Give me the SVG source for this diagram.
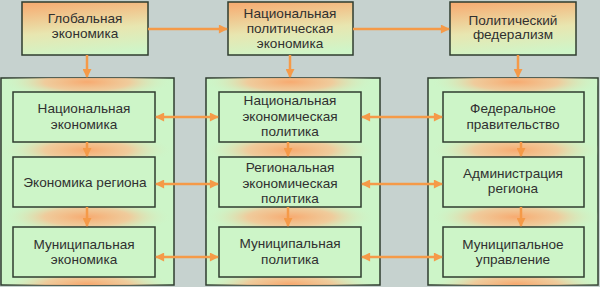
<svg xmlns="http://www.w3.org/2000/svg" width="600" height="287" viewBox="0 0 600 287">
<defs>
<style>
text{font-family:"Liberation Sans",Arial,sans-serif;font-size:13.6px;fill:#303030;text-anchor:middle}
.top{fill:url(#tg);stroke:#2f3d2f;stroke-width:1.5}
.cont{fill:#cdf5c8;stroke:#2f3d2f;stroke-width:1.5}
.box{fill:#cdf5c8;stroke:#2f3d2f;stroke-width:1.5}
.glow{fill:url(#rg)}
.a{stroke:#f59a48;stroke-width:2.5;fill:none;marker-end:url(#ah)}
.b{stroke:#f59a48;stroke-width:2.5;fill:none;marker-end:url(#ah);marker-start:url(#ah)}
</style>
<linearGradient id="tg" x1="0.3" y1="0" x2="0.5" y2="1">
<stop offset="0" stop-color="#f6ae74"/>
<stop offset="0.55" stop-color="#e8e6b0"/>
<stop offset="1" stop-color="#cff5c8"/>
</linearGradient>
<radialGradient id="rg">
<stop offset="0" stop-color="#f7aa70"/>
<stop offset="0.5" stop-color="#f5c494" stop-opacity="0.85"/>
<stop offset="1" stop-color="#cdf5c8" stop-opacity="0"/>
</radialGradient>
<marker id="ah" viewBox="0 0 10 10" refX="9" refY="5" markerWidth="10" markerHeight="9" markerUnits="userSpaceOnUse" orient="auto-start-reverse">
<path d="M0,0 L10,5 L0,10 Z" fill="#f59a48"/>
</marker>
<clipPath id="c1"><rect x="1" y="78" width="173" height="207"/></clipPath>
<clipPath id="c2"><rect x="206" y="78" width="174" height="207"/></clipPath>
<clipPath id="c3"><rect x="428" y="78" width="170" height="207"/></clipPath>
</defs>
<rect width="600" height="287" fill="#c6d2cf"/>

<g id="container-left">
<rect class="cont" x="1" y="78" width="173" height="207"/>
<g clip-path="url(#c1)">
<ellipse class="glow" cx="87" cy="82" rx="85" ry="17"/>
<ellipse class="glow" cx="87" cy="150" rx="85" ry="18"/>
<ellipse class="glow" cx="87" cy="217" rx="85" ry="18"/>
<ellipse class="glow" cx="87" cy="284" rx="85" ry="14"/>
</g>
</g>
<g id="container-mid">
<rect class="cont" x="206" y="78" width="174" height="207"/>
<g clip-path="url(#c2)">
<ellipse class="glow" cx="290" cy="82" rx="85" ry="17"/>
<ellipse class="glow" cx="290" cy="150" rx="85" ry="18"/>
<ellipse class="glow" cx="290" cy="217" rx="85" ry="18"/>
<ellipse class="glow" cx="290" cy="284" rx="85" ry="14"/>
</g>
</g>
<g id="container-right">
<rect class="cont" x="428" y="78" width="170" height="207"/>
<g clip-path="url(#c3)">
<ellipse class="glow" cx="516" cy="82" rx="85" ry="17"/>
<ellipse class="glow" cx="516" cy="150" rx="85" ry="18"/>
<ellipse class="glow" cx="516" cy="217" rx="85" ry="18"/>
<ellipse class="glow" cx="516" cy="284" rx="85" ry="14"/>
</g>
</g>

<g id="global-economy">
<rect class="top" x="22" y="2" width="126" height="53"/>
<text x="85" y="23">Глобальная</text>
<text x="85" y="38">экономика</text>
</g>
<g id="national-political-economy">
<rect class="top" x="228" y="2" width="125" height="53"/>
<text x="290" y="18">Национальная</text>
<text x="290" y="33">политическая</text>
<text x="290" y="48">экономика</text>
</g>
<g id="political-federalism">
<rect class="top" x="450" y="2" width="126" height="53"/>
<text x="513" y="25">Политический</text>
<text x="513" y="39">федерализм</text>
</g>

<g id="national-economy">
<rect class="box" x="13" y="92" width="142" height="50"/>
<text x="84" y="113">Национальная</text>
<text x="84" y="129">экономика</text>
</g>
<g id="region-economy">
<rect class="box" x="13" y="157" width="142" height="50"/>
<text x="85" y="187">Экономика региона</text>
</g>
<g id="municipal-economy">
<rect class="box" x="13" y="227" width="142" height="50"/>
<text x="84" y="249">Муниципальная</text>
<text x="84" y="264">экономика</text>
</g>

<g id="national-economic-policy">
<rect class="box" x="219" y="92" width="142" height="50"/>
<text x="290" y="105">Национальная</text>
<text x="290" y="121">экономическая</text>
<text x="290" y="136">политика</text>
</g>
<g id="regional-economic-policy">
<rect class="box" x="219" y="157" width="142" height="50"/>
<text x="290" y="172">Региональная</text>
<text x="290" y="188">экономическая</text>
<text x="290" y="203">политика</text>
</g>
<g id="municipal-policy">
<rect class="box" x="219" y="227" width="142" height="50"/>
<text x="290" y="248">Муниципальная</text>
<text x="290" y="264">политика</text>
</g>

<g id="federal-government">
<rect class="box" x="443" y="92" width="141" height="50"/>
<text x="513" y="113">Федеральное</text>
<text x="513" y="129">правительство</text>
</g>
<g id="region-administration">
<rect class="box" x="443" y="157" width="141" height="50"/>
<text x="513" y="178">Администрация</text>
<text x="513" y="193">региона</text>
</g>
<g id="municipal-management">
<rect class="box" x="443" y="227" width="141" height="50"/>
<text x="513" y="249">Муниципальное</text>
<text x="513" y="264">управление</text>
</g>

<g id="connectors">
<line class="a" x1="148" y1="29" x2="227" y2="29"/>
<line class="a" x1="353" y1="29" x2="449" y2="29"/>
<line class="a" x1="87" y1="55" x2="87" y2="77"/>
<line class="a" x1="290" y1="55" x2="290" y2="77"/>
<line class="a" x1="518" y1="55" x2="518" y2="77"/>
<line class="a" x1="87" y1="142" x2="87" y2="156"/>
<line class="a" x1="87" y1="207" x2="87" y2="226"/>
<line class="a" x1="288" y1="142" x2="288" y2="156"/>
<line class="a" x1="288" y1="207" x2="288" y2="226"/>
<line class="a" x1="521" y1="142" x2="521" y2="156"/>
<line class="a" x1="521" y1="207" x2="521" y2="226"/>
<line class="b" x1="156" y1="117" x2="218" y2="117"/>
<line class="b" x1="156" y1="184" x2="218" y2="184"/>
<line class="b" x1="156" y1="257" x2="218" y2="257"/>
<line class="b" x1="362" y1="117" x2="442" y2="117"/>
<line class="b" x1="362" y1="184" x2="442" y2="184"/>
<line class="b" x1="362" y1="257" x2="442" y2="257"/>
</g>
</svg>
